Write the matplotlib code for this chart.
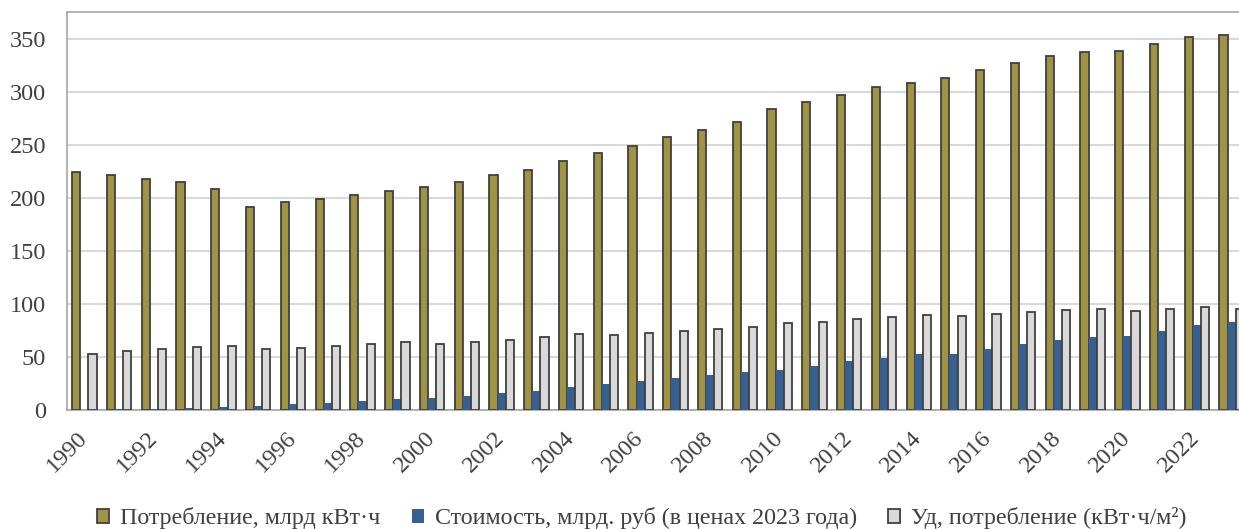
import numpy as np
import matplotlib.pyplot as plt

plt.rcParams['font.family'] = ['Liberation Serif', 'DejaVu Serif']

years = list(range(1990, 2024))

# Потребление, млрд кВт·ч
consumption = [224, 221, 218, 215, 208, 191, 196, 199, 203, 206,
               210, 215, 221, 226, 235, 242, 249, 257, 264, 271,
               284, 290, 297, 304, 308, 313, 320, 327, 334, 337,
               338, 345, 351, 353]

# Стоимость, млрд. руб (в ценах 2023 года)
cost = [0.3, 0.6, 1, 2, 3, 4, 5.3, 7, 8.8, 10,
        11.3, 13.5, 15.7, 18.2, 21.4, 24.2, 27.4, 30.2, 33.4, 36.2,
        37.8, 41.6, 45.7, 49.4, 52.9, 52.3, 57, 62, 66.4, 69,
        69.3, 74.3, 79.7, 82.5]

# Уд. потребление, кВт·ч/м²
specific = [53.2, 55.4, 57.3, 59.2, 60.1, 57.3, 58.2, 60.1, 62.4, 64.3,
            62.4, 64.3, 66.4, 68.3, 71.5, 70.2, 72.4, 74.6, 76.5, 78.4,
            81.6, 83.2, 85.3, 87.5, 89.4, 88.5, 90.4, 92.3, 94.5, 95.5,
            93.6, 95.5, 96.7, 95.5]

labels = ['Потребление, млрд кВт·ч',
          'Стоимость, млрд. руб (в ценах 2023 года)',
          'Уд, потребление (кВт·ч/м²)']

fig = plt.figure(figsize=(12.39, 5.29), dpi=100)
ax = fig.add_axes([0.0541, 0.225, 0.954, 0.7523])

x = np.arange(len(years))
w = 0.235
edge = '#404040'
ax.bar(x - w, consumption, w, color='#A09344', edgecolor=edge, linewidth=1.3,
       label=labels[0], zorder=3)
ax.bar(x, cost, w, color='#376092', edgecolor='none', label=labels[1], zorder=3)
ax.bar(x + w, specific, w, color='#D9D9D9', edgecolor=edge, linewidth=1.3,
       label=labels[2], zorder=3)

ax.set_xlim(-0.5, len(years) - 0.5)
ax.set_ylim(0, 375)
ax.set_yticks(range(0, 351, 50))
ax.yaxis.grid(True, color='#D9D9D9', linewidth=1.5, zorder=0)
ax.set_axisbelow(True)

ax.set_xticks(x[::2])
ax.set_xticklabels([str(y) for y in years[::2]], rotation=45, ha='right',
                   va='center', rotation_mode='anchor')
ax.tick_params(axis='both', length=0, labelsize=17.5, colors='#404040')
ax.tick_params(axis='y', pad=15)
ax.tick_params(axis='x', pad=18)

for side in ['top', 'left', 'bottom']:
    ax.spines[side].set_color('#A6A6A6')
    ax.spines[side].set_linewidth(1.2)
ax.spines['right'].set_visible(False)

leg = fig.legend(loc='center', bbox_to_anchor=(0.518, 0.02), ncol=3,
                 frameon=False, fontsize=17.3, handlelength=0.5,
                 handleheight=0.5, handletextpad=0.45, columnspacing=1.3,
                 borderpad=0)
for t in leg.get_texts():
    t.set_color('#404040')

fig.savefig('out.png', dpi=100)
